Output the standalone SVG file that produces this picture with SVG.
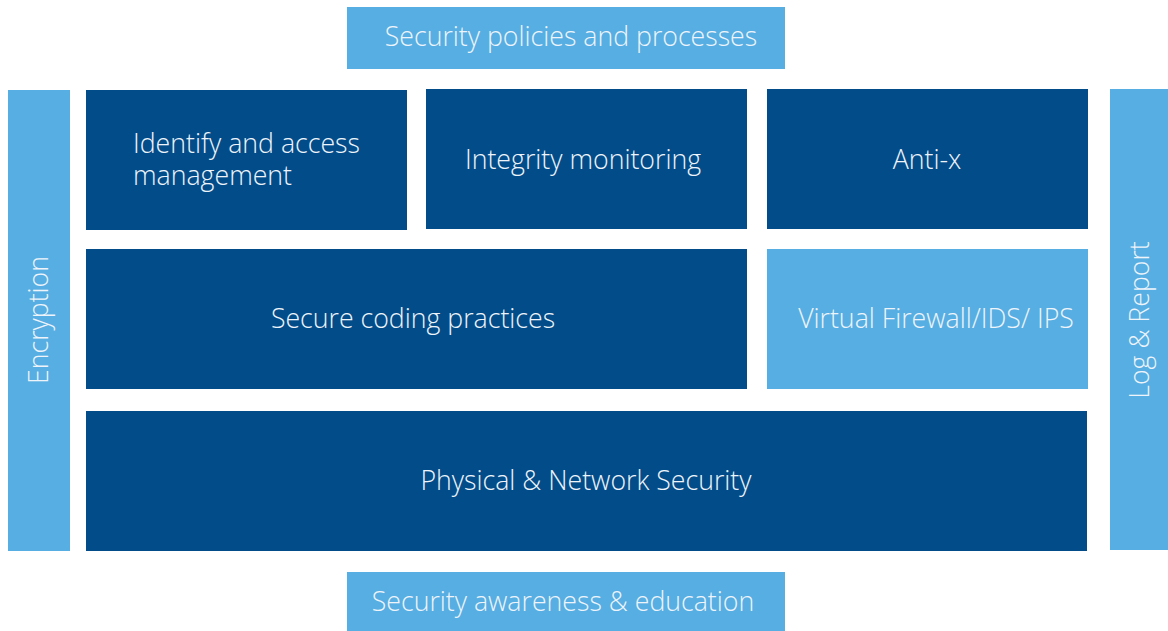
<svg xmlns="http://www.w3.org/2000/svg" width="1168" height="631" viewBox="0 0 1168 631">
  <style>
    .dark { fill: #024C89; }
    .light { fill: #56AEE2; }
    text { font-family: "Open Sans", "Liberation Sans", sans-serif; font-weight: 300; font-size: 26.7px; fill: #EEF4FA; dominant-baseline: central; }
    .c { text-anchor: middle; }
  </style>
  <rect width="1168" height="631" fill="#FFFFFF"/>

  <g id="policies">
    <rect class="light" x="347" y="7" width="438" height="62"/>
    <text class="c" x="571" y="35">Security policies and processes</text>
  </g>

  <g id="encryption">
    <rect class="light" x="8" y="90" width="62" height="461"/>
    <text class="c" transform="translate(37,320) rotate(-90)">Encryption</text>
  </g>

  <g id="identity">
    <rect class="dark" x="86" y="90" width="321" height="140"/>
    <text x="133" y="142">Identify and access</text>
    <text x="133" y="174">management</text>
  </g>

  <g id="integrity">
    <rect class="dark" x="426" y="89" width="321" height="140"/>
    <text class="c" x="583" y="158">Integrity monitoring</text>
  </g>

  <g id="antix">
    <rect class="dark" x="767" y="89" width="321" height="140"/>
    <text class="c" x="927" y="158">Anti-x</text>
  </g>

  <g id="logreport">
    <rect class="light" x="1110" y="89" width="58" height="461"/>
    <text class="c" transform="translate(1138,320) rotate(-90)">Log &amp; Report</text>
  </g>

  <g id="securecoding">
    <rect class="dark" x="86" y="249" width="661" height="140"/>
    <text class="c" x="413" y="317">Secure coding practices</text>
  </g>

  <g id="firewall">
    <rect class="light" x="767" y="249" width="321" height="140"/>
    <text class="c" x="936" y="317">Virtual Firewall/IDS/ IPS</text>
  </g>

  <g id="physical">
    <rect class="dark" x="86" y="411" width="1001" height="140"/>
    <text class="c" x="586" y="479">Physical &amp; Network Security</text>
  </g>

  <g id="awareness">
    <rect class="light" x="347" y="572" width="438" height="59"/>
    <text class="c" x="563" y="600">Security awareness &amp; education</text>
  </g>

  <g id="connectors"/>
</svg>
